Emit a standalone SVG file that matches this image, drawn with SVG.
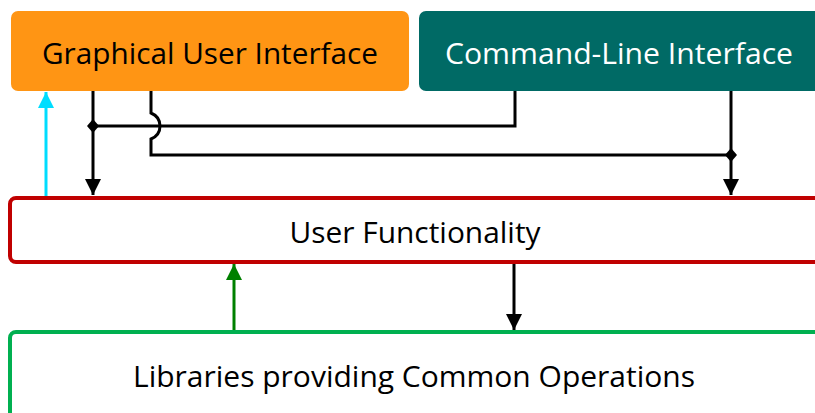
<svg xmlns="http://www.w3.org/2000/svg" width="815" height="413" viewBox="0 0 815 413">
  <style>
    .label { font-family: "Open Sans", "Noto Sans", "DejaVu Sans", sans-serif; font-size: 30px; text-anchor: middle; }
    .wire { fill: none; stroke: #000; stroke-width: 3; }
    .dot { fill: #000; }
  </style>
  <defs>
    <marker id="ahBlack" viewBox="0 0 16 16" refX="16" refY="8" markerWidth="16" markerHeight="16" markerUnits="userSpaceOnUse" orient="auto">
      <path d="M0,0 L16,8 L0,16 Z" fill="#000"/>
    </marker>
    <marker id="ahCyan" viewBox="0 0 16 16" refX="16" refY="8" markerWidth="16" markerHeight="16" markerUnits="userSpaceOnUse" orient="auto">
      <path d="M0,0 L16,8 L0,16 Z" fill="#00DDFF"/>
    </marker>
    <marker id="ahGreen" viewBox="0 0 16 16" refX="16" refY="8" markerWidth="16" markerHeight="16" markerUnits="userSpaceOnUse" orient="auto">
      <path d="M0,0 L16,8 L0,16 Z" fill="#008000"/>
    </marker>
  </defs>

  <g id="gui">
    <rect x="11" y="11" width="398" height="80" rx="7" fill="#FF9514"/>
    <text class="label" x="210" y="64" fill="#000" textLength="336" lengthAdjust="spacingAndGlyphs">Graphical User Interface</text>
  </g>

  <g id="cli">
    <rect x="419" y="11" width="410" height="80" rx="7" fill="#006A65"/>
    <text class="label" x="619" y="64" fill="#FFF" textLength="348" lengthAdjust="spacingAndGlyphs">Command-Line Interface</text>
  </g>

  <g id="user-functionality">
    <rect x="10" y="198" width="820" height="64" rx="6" fill="#FFF" stroke="#C00000" stroke-width="4"/>
    <text class="label" x="415" y="243" fill="#000" textLength="251" lengthAdjust="spacingAndGlyphs">User Functionality</text>
  </g>

  <g id="libraries">
    <rect x="10" y="332" width="820" height="100" rx="6" fill="#FFF" stroke="#00B050" stroke-width="4"/>
    <text class="label" x="414" y="387" fill="#000" textLength="562" lengthAdjust="spacingAndGlyphs">Libraries providing Common Operations</text>
  </g>

  <g id="connectors">
    <!-- GUI to User Functionality, branching to CLI -->
    <path class="wire" d="M93,91 V195" marker-end="url(#ahBlack)"/>
    <path class="wire" d="M93,126 H515 V91"/>
    <!-- CLI to User Functionality, branching to GUI (hops over the upper line) -->
    <path class="wire" d="M731,91 V195" marker-end="url(#ahBlack)"/>
    <path class="wire" d="M731,155 H151 V139 C163,134 163,118 151,113 V91"/>
    <polygon class="dot" points="93,119 99,126 93,133 87,126"/>
    <polygon class="dot" points="731,148 737,155 731,162 725,155"/>
    <!-- User Functionality back to GUI -->
    <path d="M46,196 V92" stroke="#00DDFF" stroke-width="3" fill="none" marker-end="url(#ahCyan)"/>
    <!-- Libraries back to User Functionality -->
    <path d="M234,330 V264" stroke="#008000" stroke-width="3" fill="none" marker-end="url(#ahGreen)"/>
    <!-- User Functionality to Libraries -->
    <path class="wire" d="M514,264 V330" marker-end="url(#ahBlack)"/>
  </g>
</svg>
